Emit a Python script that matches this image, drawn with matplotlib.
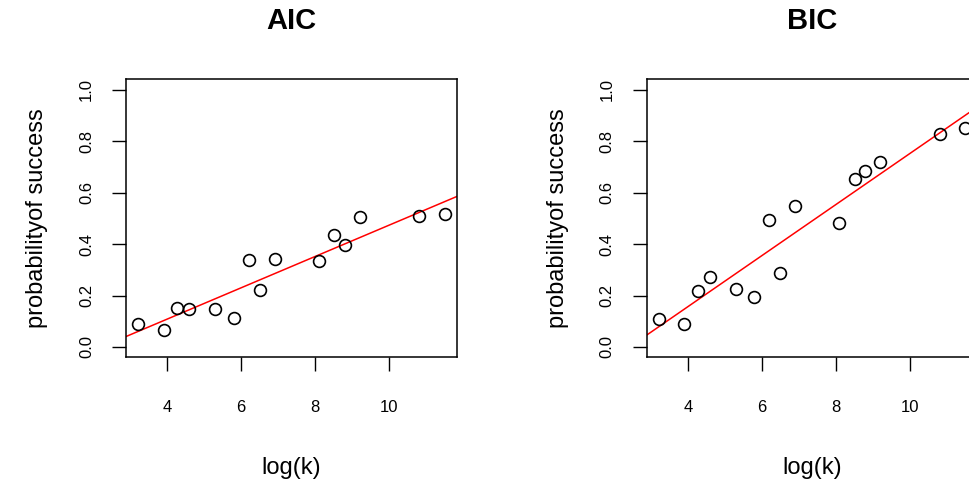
import numpy as np
import matplotlib.pyplot as plt

# log(k) values shared by both panels
log_k = [3.22, 3.91, 4.28, 4.60, 5.30, 5.80, 6.21, 6.50, 6.91, 8.10, 8.51, 8.80, 9.21, 10.82, 11.51]

# probability of success for each criterion
p_aic = [0.089, 0.066, 0.150, 0.146, 0.146, 0.112, 0.338, 0.221, 0.343, 0.334, 0.434, 0.396, 0.505, 0.510, 0.515]
p_bic = [0.109, 0.089, 0.217, 0.272, 0.226, 0.196, 0.495, 0.288, 0.546, 0.480, 0.651, 0.685, 0.718, 0.827, 0.849]

# fitted lines (intercept, slope)
fit_aic = (-0.135, 0.0608)
fit_bic = (-0.240, 0.0991)

titles = ["AIC", "BIC"]
xticks = [4, 6, 8, 10]
yticks = [0.0, 0.2, 0.4, 0.6, 0.8, 1.0]

plt.rcParams['font.family'] = ['Liberation Sans', 'DejaVu Sans']

fig = plt.figure(figsize=(9.69, 4.84), dpi=100)
# the right panel runs slightly past the figure edge, as in the original
positions = [[126 / 969, 0.2618, 331 / 969, 0.5744],
             [646.7 / 969, 0.2618, 331 / 969, 0.5744]]

xmin, xmax = min(log_k), max(log_k)
pad = 0.04 * (xmax - xmin)

for pos, title, p, fit in zip(positions, titles, [p_aic, p_bic], [fit_aic, fit_bic]):
    ax = fig.add_axes(pos)
    ax.plot(log_k, p, 'o', mfc='none', mec='black', ms=8.5, mew=1.2, zorder=3)
    ax.axline((0, fit[0]), slope=fit[1], color='red', lw=1.1)
    ax.set_xlim(xmin - pad, xmax + pad)
    ax.set_ylim(-0.04, 1.04)
    ax.set_xticks(xticks)
    ax.set_yticks(yticks)
    ax.set_yticklabels([f"{v:.1f}" for v in yticks], rotation=90, va='center')
    ax.tick_params(axis='both', length=10, width=1.0, labelsize=12)
    ax.tick_params(axis='x', pad=21)
    ax.tick_params(axis='y', pad=13)
    for s in ax.spines.values():
        s.set_linewidth(1.1)
    ax.set_title(title, fontsize=21, fontweight='bold', pad=36)
    ax.set_xlabel("log(k)", fontsize=17, labelpad=30)
    ax.set_ylabel("probabilityof success", fontsize=17, labelpad=22)

fig.savefig("out.png", dpi=100)
